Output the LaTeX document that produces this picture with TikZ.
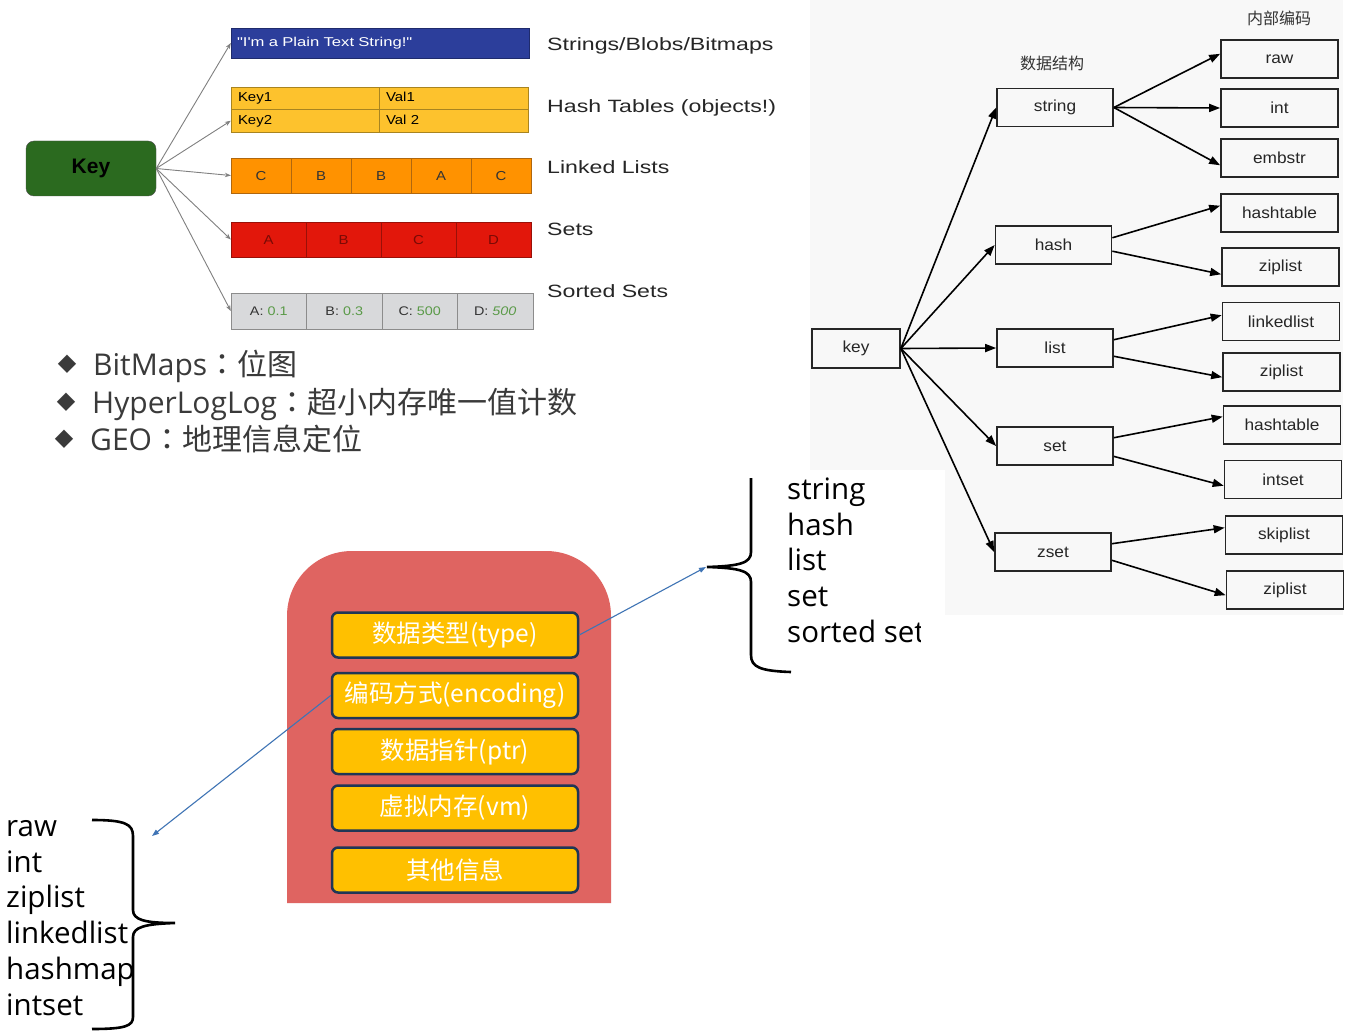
\documentclass[tikz,border=0pt]{standalone}
\usepackage{fontspec}
\setmainfont{Liberation Sans}
\newfontfamily\widefont[FakeStretch=1.3]{Liberation Sans}
\newfontfamily\midfont[FakeStretch=1.15]{Liberation Sans}
\newfontfamily\rfont[FakeStretch=1.08]{Liberation Sans}
\newfontfamily\cjkfont{Noto Sans CJK SC}
\newfontfamily\cjktc{Noto Sans CJK TC}
\newfontfamily\osfont{Open Sans}
\newfontfamily\djfont{DejaVu Sans}
\usetikzlibrary{arrows.meta}
\definecolor{strblue}{HTML}{2C3E9B}
\definecolor{hyellow}{HTML}{FDC22D}
\definecolor{hborder}{HTML}{A88420}
\definecolor{lorange}{HTML}{FF9200}
\definecolor{lborder}{HTML}{B0670E}
\definecolor{sred}{HTML}{E2170B}
\definecolor{sborder}{HTML}{9A1008}
\definecolor{stext}{HTML}{7A0A05}
\definecolor{ssgray}{HTML}{D8D9DB}
\definecolor{ssborder}{HTML}{8C8C8C}
\definecolor{ssgreen}{HTML}{5A9A48}
\definecolor{keygreen}{HTML}{2B6A1F}
\definecolor{panelgray}{HTML}{F8F8F8}
\definecolor{redbg}{HTML}{DF6461}
\definecolor{boxyellow}{HTML}{FFC000}
\definecolor{boxnavy}{HTML}{1F3656}
\definecolor{arrblue}{HTML}{3F74B5}
\definecolor{bultext}{HTML}{3A3A3A}
\newcommand{\fwcolon}{{\cjktc ：}}
\begin{document}
\begin{tikzpicture}[x=1pt,y=-1pt,
  keynode/.style={draw=black!70, fill=keygreen, rounded corners=8pt, minimum width=130pt, minimum height=55pt, inner sep=0pt, font=\fontsize{21}{24}\selectfont\bfseries},
  strbox/.style={draw=strblue!70!black, fill=strblue, minimum width=298pt, minimum height=30pt, text width=286pt, inner xsep=6pt, inner ysep=0pt, align=left, text=white, font=\widefont\fontsize{12.8}{14}\selectfont},
  hcell/.style={draw=hborder, fill=hyellow, minimum height=22.5pt, inner xsep=7pt, inner ysep=0pt, align=left, text height=9.5pt, text depth=2.5pt, font=\midfont\fontsize{13}{15}\selectfont},
  lcell/.style={draw=lborder, fill=lorange, minimum width=60pt, minimum height=35pt, inner sep=0pt, text=black!80, text height=9.5pt, text depth=0pt, font=\midfont\fontsize{13}{15}\selectfont},
  scell/.style={draw=sborder, fill=sred, minimum width=75pt, minimum height=35pt, inner sep=0pt, text=stext, text height=9.5pt, text depth=0pt, font=\midfont\fontsize{13}{15}\selectfont},
  sscell/.style={draw=ssborder, fill=ssgray, minimum width=75.5pt, minimum height=36pt, inner sep=0pt, text=black!80, text height=9pt, text depth=0pt, font=\midfont\fontsize{12.5}{14}\selectfont},
  lbl/.style={anchor=base west, inner sep=0pt, text=black!85, font=\widefont\fontsize{17.8}{20}\selectfont},
  garr/.style={draw=black!50, line width=0.9pt, -{Stealth[length=6pt,width=4.5pt]}},
  bul/.style={inner sep=0pt, text=bultext, font=\djfont\fontsize{24}{28}\selectfont},
  btxt/.style={anchor=base west, inner sep=0pt, text=bultext, font=\fontsize{30}{36}\selectfont},
  hdr/.style={inner sep=0pt, text=black!80, font=\cjkfont\fontsize{16}{18}\selectfont},
  rbox/.style={draw=black!85, line width=1.7pt, minimum width=116pt, minimum height=38pt, inner sep=0pt, text=black!85, font=\rfont\fontsize{16}{18}\selectfont},
  barr/.style={draw=black, line width=1.6pt, -{Triangle[length=11pt,width=8pt]}},
  ybox/.style={draw=boxnavy, line width=2.5pt, fill=boxyellow, rounded corners=6pt, minimum width=246pt, minimum height=45pt, inner sep=0pt, text=white, font=\cjkfont\fontsize{24.5}{28}\selectfont},
  blarr/.style={draw=arrblue, line width=1.1pt, -{Triangle[length=7pt,width=5pt]}},
  ltxt/.style={anchor=base west, inner sep=0pt, text=black, font=\osfont\fontsize{29.5}{34}\selectfont},
  brace/.style={draw=black, line width=2.6pt}
]
\useasboundingbox (0,0) rectangle (1357,1032);
\fill[white] (0,0) rectangle (1357,1032);
\fill[panelgray] (945,0) rectangle (1343,615);
\fill[panelgray] (810,0) rectangle (945,470);

% ---------- top-left: Redis data types ----------
\node[keynode] (K) at (91,168.5) {Key};
\node[strbox] (S) at (380,43) {"I'm a Plain Text String!"};
\node[hcell, minimum width=148pt, text width=134pt] (hk1) at (305,98.25) {Key1};
\node[hcell, minimum width=149pt, text width=135pt] (hv1) at (453.5,98.25) {Val1};
\node[hcell, minimum width=148pt, text width=134pt] (hk2) at (305,120.75) {Key2};
\node[hcell, minimum width=149pt, text width=135pt] (hv2) at (453.5,120.75) {Val 2};
\node[lcell] (l1) at (261,175.5) {C};
\node[lcell] (l2) at (321,175.5) {B};
\node[lcell] (l3) at (381,175.5) {B};
\node[lcell] (l4) at (441,175.5) {A};
\node[lcell] (l5) at (501,175.5) {C};
\node[scell] (s1) at (268.5,239.5) {A};
\node[scell] (s2) at (343.5,239.5) {B};
\node[scell] (s3) at (418.5,239.5) {C};
\node[scell] (s4) at (493.5,239.5) {D};
\node[sscell] (z1) at (268.75,311) {A: \textcolor{ssgreen}{0.1}};
\node[sscell] (z2) at (344.25,311) {B: \textcolor{ssgreen}{0.3}};
\node[sscell] (z3) at (419.75,311) {C: \textcolor{ssgreen}{500}};
\node[sscell] (z4) at (495.25,311) {D: \textcolor{ssgreen}{\itshape 500}};
\draw[garr] (K.east) -- (S.west);
\draw[garr] (K.east) -- (hk2.west);
\draw[garr] (K.east) -- (l1.west);
\draw[garr] (K.east) -- (s1.west);
\draw[garr] (K.east) -- (z1.west);
\node[lbl] (t1) at (547,51) {Strings/Blobs/Bitmaps};
\node[lbl] (t2) at (547,113) {Hash Tables (objects!)};
\node[lbl] (t3) at (547,174) {Linked Lists};
\node[lbl] (t4) at (547,236) {Sets};
\node[lbl] (t5) at (547,298) {Sorted Sets};

% ---------- bullets ----------
\node[bul] (d1) at (67,364) {◆};
\node[bul] (d2) at (66,402) {◆};
\node[bul] (d3) at (64,439) {◆};
\node[btxt] (b1) at (93,375) {{\osfont BitMaps}\fwcolon{\cjkfont 位图}};
\node[btxt] (b2) at (92,413) {{\osfont HyperLogLog}\fwcolon{\cjkfont 超小内存唯一值计数}};
\node[btxt] (b3) at (90,450) {{\osfont GEO}\fwcolon{\cjkfont 地理信息定位}};

% ---------- right: data structure / encoding ----------
\node[hdr] (h1) at (1052,63) {数据结构};
\node[hdr] (h2) at (1279,18) {内部编码};
\node[rbox, minimum width=88pt, minimum height=39pt] (key) at (856,348.5) {key};
\node[rbox] (string) at (1055,107.5) {string};
\node[rbox] (hash) at (1053.5,245) {hash};
\node[rbox] (list) at (1055,348) {list};
\node[rbox] (set) at (1055,446) {set};
\node[rbox] (zset) at (1053,552) {zset};
\node[rbox, minimum width=117pt] (raw) at (1279.5,59) {raw};
\node[rbox, minimum width=117pt] (int) at (1279.5,108) {int};
\node[rbox, minimum width=117pt] (emb) at (1279.5,158) {embstr};
\node[rbox, minimum width=117pt] (ht1) at (1279.5,213) {hashtable};
\node[rbox, minimum width=117pt] (zl1) at (1280.5,267) {ziplist};
\node[rbox, minimum width=117pt] (ll) at (1281,321.5) {linkedlist};
\node[rbox, minimum width=117pt] (zl2) at (1281.5,372) {ziplist};
\node[rbox, minimum width=117pt] (ht2) at (1282,425) {hashtable};
\node[rbox, minimum width=117pt] (ins) at (1283,479.5) {intset};
\node[rbox, minimum width=117pt] (skp) at (1284,535) {skiplist};
\node[rbox, minimum width=117pt] (zl3) at (1285,590) {ziplist};
\draw[barr] (key.east) -- (string.west);
\draw[barr] (key.east) -- (hash.west);
\draw[barr] (key.east) -- (list.west);
\draw[barr] (key.east) -- (set.west);
\draw[barr] (key.east) -- (zset.west);
\draw[barr] (string.east) -- (raw.175);
\draw[barr] (string.east) -- (int.west);
\draw[barr] (string.east) -- (emb.187);
\draw[barr] (hash.7) -- (ht1.173);
\draw[barr] (hash.-6) -- (zl1.187);
\draw[barr] (list.8) -- (ll.174);
\draw[barr] (list.-8) -- (zl2.185);
\draw[barr] (set.8) -- (ht2.172);
\draw[barr] (set.-10) -- (ins.186);
\draw[barr] (zset.8) -- (skp.173);
\draw[barr] (zset.-8) -- (zl3.185);

% ---------- bottom: redisObject ----------
\fill[redbg] (287,903) -- (287,616) .. controls (287,580) and (316,551) .. (352,551) -- (546,551) .. controls (582,551) and (611,580) .. (611,616) -- (611,903) -- cycle;
\node[ybox] (type) at (455,635) {数据类型(type)};
\node[ybox] (enc) at (455,695.5) {编码方式(encoding)};
\node[ybox] (ptr) at (455,751.5) {数据指针(ptr)};
\node[ybox] (vm) at (455,808) {虚拟内存(vm)};
\node[ybox] (oth) at (455,870) {其他信息};
\coordinate (cR) at (706,567);
\coordinate (cL) at (152,836);
\draw[blarr] (type.east) -- (cR);
\draw[blarr] (enc.west) -- (cL);

% right brace and list
\draw[brace] (751,478) -- (751,552) .. controls (751,563) and (740,566) .. (707,567) .. controls (740,568) and (751,571) .. (751,582) -- (751,655) .. controls (751,667) and (760,671) .. (791,672);
\begin{scope}
\clip (760,470) rectangle (920,700);
\node[ltxt] (r1) at (787,499) {string};
\node[ltxt] (r2) at (787,535) {hash};
\node[ltxt] (r3) at (787,570) {list};
\node[ltxt] (r4) at (787,606) {set};
\node[ltxt] (r5) at (787,642) {sorted set};
\end{scope}

% left brace and list
\draw[brace] (92,820) .. controls (125,820) and (133,824) .. (133,836) -- (133,910) .. controls (133,920) and (145,923) .. (175,923) .. controls (145,924) and (133,927) .. (133,937) -- (133,1017) .. controls (133,1026) and (125,1029) .. (92,1029);
\node[ltxt] (e1) at (6,836) {raw};
\node[ltxt] (e2) at (6,872) {int};
\node[ltxt] (e3) at (6,907) {ziplist};
\node[ltxt] (e4) at (6,943) {linkedlist};
\node[ltxt] (e5) at (6,979) {hashmap};
\node[ltxt] (e6) at (6,1015) {intset};
\end{tikzpicture}
\end{document}
